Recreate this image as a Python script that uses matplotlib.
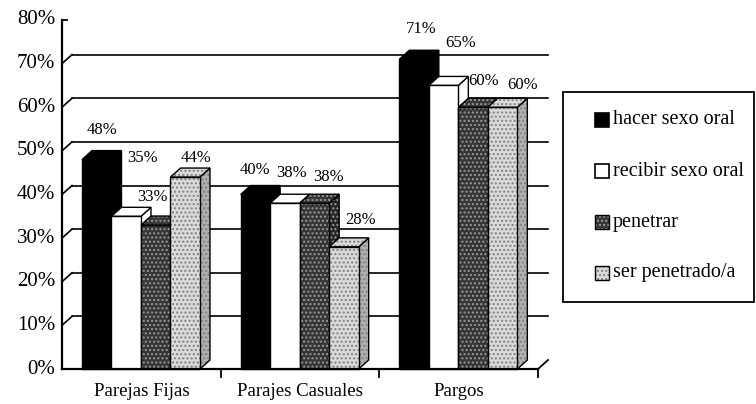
import matplotlib.pyplot as plt
from matplotlib.patches import Polygon, Rectangle

# data
categories = ['Parejas Fijas', 'Parajes Casuales', 'Pargos']
series = ['hacer sexo oral', 'recibir sexo oral', 'penetrar', 'ser penetrado/a']
hacer = [48, 40, 71]
recibir = [35, 38, 65]
penetrar = [33, 38, 60]
ser_penetrado = [44, 28, 60]
values = [hacer, recibir, penetrar, ser_penetrado]
yticks = [0, 10, 20, 30, 40, 50, 60, 70, 80]

# looks: (face, hatch, hatch colour, side face)
looks = [('black', None, None, 'black'),
         ('white', None, None, 'white'),
         ('#363636', '....', '#9a9a9a', '#262626'),
         ('#dadada', '....', '#808080', '#b0b0b0')]

plt.rcParams['font.family'] = ['Liberation Serif', 'DejaVu Serif']

fig = plt.figure(figsize=(7.56, 4.04), dpi=100)
ax = fig.add_axes([0, 0, 1, 1])

# pixel layout of the old scan -> data units
X0, UX = 62, 158.67
Y0, UY = 369, 4.3625
def px2x(p):
    return (p - X0) / UX
def px2y(p):
    return (Y0 - p) / UY

ax.set_xlim(px2x(0), px2x(756))
ax.set_ylim(px2y(404), px2y(0))
ax.axis('off')

ddx = 10 / UX   # depth of the 3d look
ddy = 9 / UY
bw = 29.5 / UX
start = 0.126

# back wall grid lines
for t in yticks[1:-1]:
    ax.plot([ddx, 3 + ddx], [t + ddy, t + ddy], color='black', lw=1.2, zorder=1)
    ax.plot([0, ddx], [t, t + ddy], color='black', lw=1.2, zorder=1)

# axes lines
ax.plot([0, 0], [0, 80], color='black', lw=1.6, zorder=5)
ax.plot([0, 0.03], [80, 80], color='black', lw=1.3, zorder=5)
ax.plot([0, 3], [0, 0], color='black', lw=1.6, zorder=5)
ax.plot([3, 3 + ddx], [0, ddy], color='black', lw=1.3, zorder=5)
for k in [1, 2, 3]:
    ax.plot([k, k], [0, px2y(377)], color='black', lw=1.3, zorder=5)

for t in yticks:
    ax.text(px2x(55), t, f'{t}%', ha='right', va='center', fontsize=15)

for i, c in enumerate(categories):
    ax.text(i + 0.5, px2y(392), c, ha='center', va='center', fontsize=13.5)

# bars with fake depth
for j, vals in enumerate(values):
    face, hatch, hcol, side = looks[j]
    lefts = [i + start + j * bw for i in range(len(vals))]
    for x, v in zip(lefts, vals):
        top = [(x, v), (x + bw, v), (x + bw + ddx, v + ddy), (x + ddx, v + ddy)]
        sid = [(x + bw, 0), (x + bw, v), (x + bw + ddx, v + ddy), (x + bw + ddx, ddy)]
        for pts, fc in [(sid, side), (top, face)]:
            if hatch:
                ax.add_patch(Polygon(pts, facecolor=fc, edgecolor=hcol, hatch=hatch, lw=0, zorder=3))
                ax.add_patch(Polygon(pts, fill=False, edgecolor='black', lw=1, zorder=3))
            else:
                ax.add_patch(Polygon(pts, facecolor=fc, edgecolor='black', lw=1, zorder=3))
    if hatch:
        ax.bar(lefts, vals, width=bw, align='edge', color=face, edgecolor=hcol, hatch=hatch, lw=0, zorder=3)
        ax.bar(lefts, vals, width=bw, align='edge', fill=False, edgecolor='black', lw=1, zorder=3)
    else:
        ax.bar(lefts, vals, width=bw, align='edge', color=face, edgecolor='black', lw=1, zorder=3)

# value labels, nudged (in pixels) like in the scan
label_dx = [[5, 16, -3, 11], [0, 7, 14, 17], [7, 17, 10, 20]]
label_dy = [[30, 58, 28, 19], [25, 30, 26, 27], [30, 42, 26, 22]]
for j, vals in enumerate(values):
    for i, v in enumerate(vals):
        xc = i + start + (j + 0.5) * bw + label_dx[i][j] / UX
        yc = v + label_dy[i][j] / UY
        ax.text(xc, yc, f'{v}%', ha='center', va='center', fontsize=12, zorder=6)

# legend box drawn by hand to sit like the original
ax.add_patch(Rectangle((px2x(563), px2y(302)), px2x(754) - px2x(563), px2y(92) - px2y(302),
                       fill=False, edgecolor='black', lw=1.3, zorder=5))
for j, name in enumerate(series):
    face, hatch, hcol, side = looks[j]
    cy = 120 + j * 51
    x, y = px2x(595), px2y(cy + 7)
    w, h = px2x(609) - px2x(595), px2y(cy - 7) - px2y(cy + 7)
    if hatch:
        ax.add_patch(Rectangle((x, y), w, h, facecolor=face, edgecolor=hcol, hatch=hatch, lw=0, zorder=5))
        ax.add_patch(Rectangle((x, y), w, h, fill=False, edgecolor='black', lw=1, zorder=5))
    else:
        ax.add_patch(Rectangle((x, y), w, h, facecolor=face, edgecolor='black', lw=1.2, zorder=5))
    ax.text(px2x(613), px2y(cy), name, ha='left', va='center', fontsize=14.5, zorder=5)

fig.savefig('out.png', dpi=100)
